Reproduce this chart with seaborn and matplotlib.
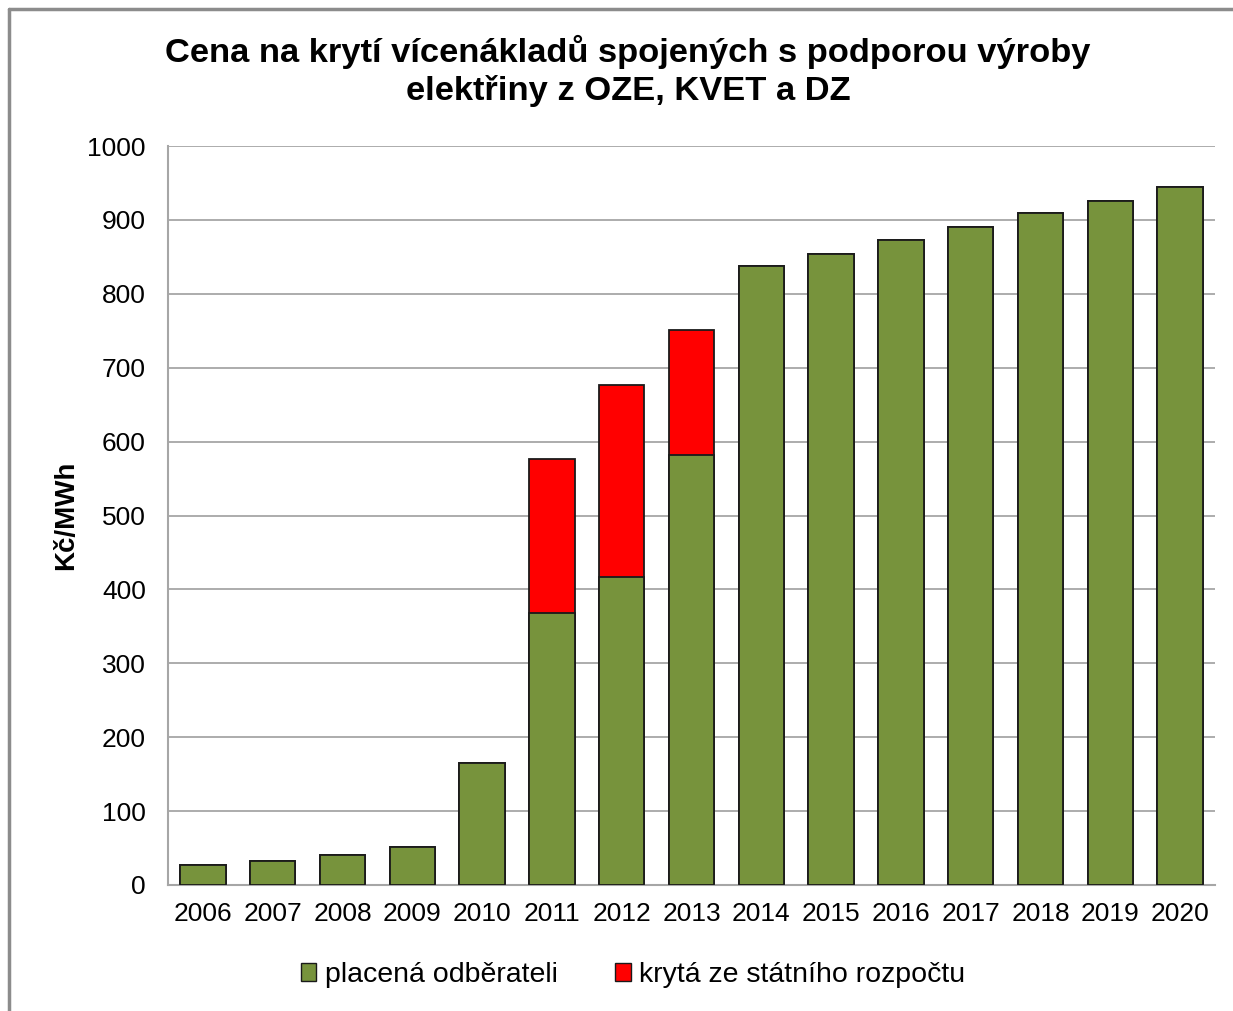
import matplotlib
matplotlib.use("Agg")
import matplotlib.pyplot as plt
import seaborn as sns
import pandas as pd
from matplotlib.patches import Patch
from matplotlib.lines import Line2D

years = ["2006", "2007", "2008", "2009", "2010", "2011", "2012", "2013",
         "2014", "2015", "2016", "2017", "2018", "2019", "2020"]
paid_by_customers = [27, 33, 41, 52, 165, 368, 417, 582, 837, 854, 873, 890, 909, 925, 944]
state_budget = [0, 0, 0, 0, 0, 208, 260, 169, 0, 0, 0, 0, 0, 0, 0]
yticks = [0, 100, 200, 300, 400, 500, 600, 700, 800, 900, 1000]

title = "Cena na krytí vícenákladů spojených s podporou výroby\nelektřiny z OZE, KVET a DZ"
ylabel = "Kč/MWh"
legend_labels = ["placená odběrateli", "krytá ze státního rozpočtu"]

GREEN = "#77933C"
RED = "#FF0000"
EDGE = "#1a1a1a"
GRID = "#a6a6a6"

sns.set_theme(style="white")
plt.rcParams["font.family"] = ["Liberation Sans", "DejaVu Sans"]
plt.rcParams["text.color"] = "black"

df = pd.DataFrame({
    "year": years,
    "paid": paid_by_customers,
    "total": [p + s for p, s in zip(paid_by_customers, state_budget)],
})

fig = plt.figure(figsize=(12.33, 10.11), dpi=100)
ax = fig.add_axes([168 / 1233, 1 - 885 / 1011, (1215 - 168) / 1233, (885 - 146) / 1011])

sns.barplot(data=df, x="year", y="total", color=RED, width=0.65,
            edgecolor=EDGE, linewidth=1.3, saturation=1, ax=ax, zorder=2)
sns.barplot(data=df, x="year", y="paid", color=GREEN, width=0.65,
            edgecolor=EDGE, linewidth=1.3, saturation=1, ax=ax, zorder=3)

ax.set_ylim(0, 1000)
ax.set_xlim(-0.5, len(years) - 0.5)
ax.set_yticks(yticks)
ax.yaxis.grid(True, color=GRID, linewidth=1.3)
ax.xaxis.grid(False)
ax.set_axisbelow(True)
for side in ["top", "right"]:
    ax.spines[side].set_visible(False)
for side in ["left", "bottom"]:
    ax.spines[side].set_color(GRID)
    ax.spines[side].set_linewidth(1.5)
ax.tick_params(axis="both", length=0, labelsize=19, colors="black")
ax.tick_params(axis="y", pad=16)
ax.tick_params(axis="x", pad=12)
ax.set_xlabel("")
ax.set_ylabel(ylabel, fontsize=20, fontweight="bold", color="black")
ax.yaxis.set_label_coords(-0.085, 0.5)

fig.text(628 / 1233, 1 - 35 / 1011, title, ha="center", va="top", color="black",
         fontsize=24.8, fontweight="bold", linespacing=1.25)

handles = [Patch(facecolor=GREEN, edgecolor=EDGE, linewidth=1.0),
           Patch(facecolor=RED, edgecolor=EDGE, linewidth=1.0)]
fig.legend(handles, legend_labels, loc="center", bbox_to_anchor=(633 / 1233, 1 - 975 / 1011),
           ncol=2, frameon=False, fontsize=20.5, handlelength=0.55, handleheight=0.55,
           handletextpad=0.3, columnspacing=2.0, labelcolor="black")

# outer chart frame
fig.add_artist(Line2D([9 / 1233, 9 / 1233], [0, 1 - 9 / 1011], transform=fig.transFigure,
                      color="#8c8c8c", linewidth=2.5))
fig.add_artist(Line2D([9 / 1233, 1], [1 - 9 / 1011, 1 - 9 / 1011], transform=fig.transFigure,
                      color="#8c8c8c", linewidth=2.5))

fig.savefig("out.png", dpi=100, facecolor="white")
